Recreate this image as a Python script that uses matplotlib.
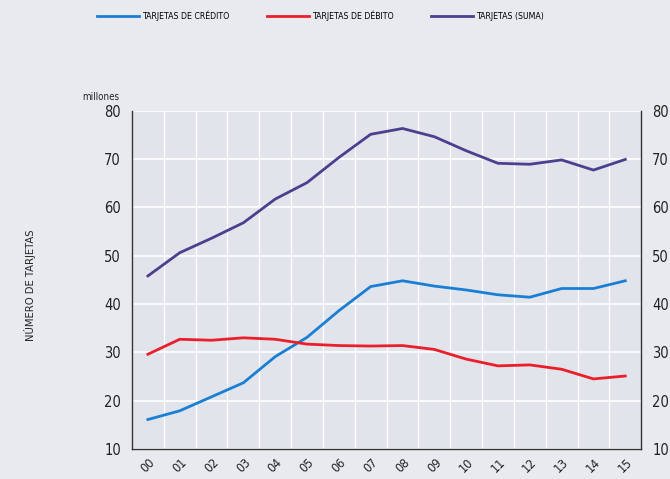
import matplotlib
matplotlib.use("Agg")
import matplotlib.pyplot as plt
import numpy as np

years = ["00", "01", "02", "03", "04", "05", "06", "07",
         "08", "09", "10", "11", "12", "13", "14", "15"]
credito = [16.1, 17.9, 20.8, 23.7, 29.1, 33.1, 38.6, 43.6,
           44.8, 43.7, 42.9, 41.9, 41.4, 43.2, 43.2, 44.8]
debito = [29.6, 32.7, 32.5, 33.0, 32.7, 31.7, 31.4, 31.3,
          31.4, 30.6, 28.6, 27.2, 27.4, 26.5, 24.5, 25.1]
suma = [45.8, 50.6, 53.6, 56.8, 61.7, 65.1, 70.3, 75.1,
        76.3, 74.6, 71.7, 69.1, 68.9, 69.8, 67.7, 69.9]
yticks = [10, 20, 30, 40, 50, 60, 70, 80]
labels = ["TARJETAS DE CRÉDITO", "TARJETAS DE DÉBITO", "TARJETAS (SUMA)"]
colors = ["#1a7fd4", "#ea1f2b", "#4b3f8e"]

plt.rcParams['font.family'] = ["DejaVu Sans"]
plt.rcParams['font.stretch'] = "condensed"

fig = plt.figure(figsize=(6.7, 4.79), dpi=100)
fig.patch.set_facecolor("#e8eaef")
ax = fig.add_axes([0.197, 0.0626, 0.760, 0.7065])
ax.set_facecolor("#e1e4eb")

x = np.arange(len(years))
lines = []
for series, c, lab in zip([credito, debito, suma], colors, labels):
    ln, = ax.plot(x, series, color=c, lw=2.0, label=lab, solid_joinstyle="miter")
    lines.append(ln)

ax.set_xlim(-0.5, len(years) - 0.5)
ax.set_ylim(10, 80)
ax.set_yticks(yticks)
ax.set_yticklabels([str(v) for v in yticks])
ax.set_xticks(x)
ax.set_xticklabels(years, rotation=45, ha="center", va="top")
ax.set_xticks(np.arange(-0.5, len(years), 1.0), minor=True)
ax.grid(False)
ax.grid(True, which="minor", axis="x", color="white", lw=0.9)
ax.grid(True, which="major", axis="y", color="white", lw=1.2)
ax.set_axisbelow(True)

ax.tick_params(axis="both", which="both", length=0)
ax.tick_params(axis="y", labelsize=10.5, labelright=True, pad=8, colors="#222222")
ax.tick_params(axis="x", labelsize=9, pad=5, colors="#222222")
for side in ["left", "bottom", "right"]:
    ax.spines[side].set_color("#333333")
    ax.spines[side].set_linewidth(1.0)
ax.spines["top"].set_visible(False)

ax.text(-0.025, 1.025, "millones", transform=ax.transAxes, ha="right",
        va="bottom", fontsize=7, color="#222222")
fig.text(0.045, 0.405, "NÚMERO DE TARJETAS", rotation=90, ha="center",
         va="center", fontsize=8, color="#222222")

fig.legend(handles=lines, loc="center", bbox_to_anchor=(0.478, 0.967),
           ncol=3, frameon=False, fontsize=6.3, handlelength=4.8,
           columnspacing=4.3, handletextpad=0.35)

fig.savefig("out.png", dpi=100, facecolor=fig.get_facecolor())
